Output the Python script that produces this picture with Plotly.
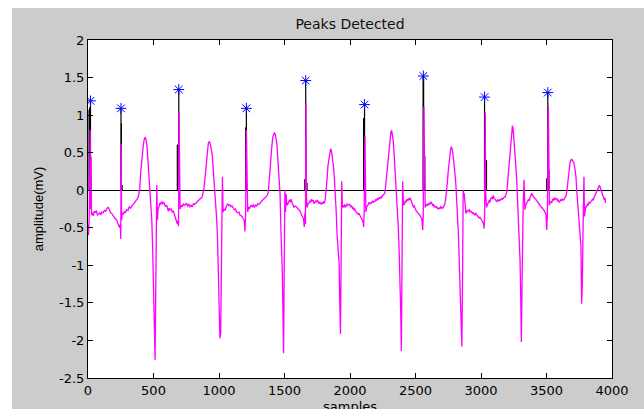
import plotly.graph_objects as go

# ---- data ----
sig_s = [0, 4, 10, 17, 20, 24, 27, 32, 40, 48, 55, 63, 72, 80, 90, 98, 106, 115, 125, 135, 145, 155, 163, 172, 182, 190, 200, 210, 220, 228, 236, 242, 247, 250, 253, 256, 262, 270, 278, 286, 295, 305, 315, 325, 335, 345, 355, 365, 375, 385, 395, 403, 412, 422, 431, 438, 445, 452, 461, 468, 474, 481, 487, 494, 500, 506, 512, 518, 525, 530, 535, 542, 548, 555, 562, 570, 578, 585, 592, 600, 608, 614, 620, 627, 635, 643, 652, 660, 668, 676, 682, 688, 691, 695, 699, 703,
         714, 720, 727, 735, 745, 752, 760, 770, 778, 787, 796, 805, 814, 822, 832, 840, 847, 856, 865, 872, 878, 885, 891, 898, 905, 911, 918, 925, 932, 940, 949, 955, 962, 968, 975, 981, 988, 994, 1000, 1007, 1013, 1020, 1026, 1031, 1038, 1045, 1052, 1060, 1068, 1076, 1083, 1092, 1100, 1109, 1118, 1126, 1134, 1143, 1152, 1160, 1168, 1176, 1185, 1192, 1198, 1203, 1209, 1213, 1219,
         1226, 1232, 1237, 1245, 1253, 1262, 1270, 1279, 1288, 1296, 1305, 1313, 1322, 1330, 1338, 1347, 1355, 1364, 1370, 1376, 1383, 1389, 1396, 1402, 1410, 1417, 1423, 1430, 1436, 1442, 1448, 1453, 1460, 1466, 1473, 1478, 1483, 1488, 1493, 1498, 1503, 1508, 1513, 1518, 1525, 1532, 1540, 1546, 1551, 1558, 1565, 1572, 1580, 1590, 1598, 1605, 1612, 1620, 1630, 1638, 1645, 1651, 1656, 1660, 1664, 1668, 1672,
         1680, 1687, 1693, 1700, 1705, 1712, 1718, 1724, 1730, 1738, 1745, 1750, 1756, 1763, 1770, 1776, 1781, 1788, 1795, 1800, 1806, 1812, 1819, 1825, 1832, 1840, 1846, 1852, 1858, 1863, 1869, 1875, 1882, 1888, 1895, 1901, 1909, 1917, 1922, 1927, 1932, 1937, 1942, 1947, 1954, 1960, 1966, 1972, 1979, 1985, 1991, 1998, 2005, 2012, 2018, 2023, 2030, 2036, 2043, 2049, 2055, 2062, 2068, 2074, 2081, 2088, 2094, 2100, 2104, 2108, 2114, 2118, 2121,
         2128, 2134, 2139, 2146, 2152, 2158, 2165, 2172, 2178, 2184, 2190, 2197, 2203, 2210, 2216, 2223, 2229, 2235, 2241, 2248, 2255, 2261, 2267, 2273, 2280, 2287, 2294, 2298, 2305, 2312, 2318, 2324, 2331, 2337, 2343, 2350, 2356, 2362, 2369, 2375, 2382, 2387, 2392, 2397, 2402, 2408, 2415, 2422, 2428, 2435, 2441, 2447, 2453, 2458, 2465, 2471, 2477, 2484, 2490, 2496, 2503, 2509, 2515, 2521, 2528, 2535, 2542, 2548, 2555, 2559, 2564, 2568, 2574,
         2580, 2586, 2592, 2597, 2604, 2610, 2617, 2623, 2630, 2636, 2642, 2648, 2655, 2661, 2668, 2674, 2680, 2687, 2693, 2699, 2705, 2711, 2718, 2724, 2730, 2737, 2743, 2749, 2755, 2761, 2767, 2773, 2780, 2786, 2793, 2800, 2808, 2815, 2821, 2828, 2834, 2840, 2846, 2854, 2859, 2864, 2868, 2872, 2878, 2885, 2891, 2897, 2903, 2910, 2916, 2922, 2928, 2935, 2941, 2948, 2954, 2960, 2968, 2974, 2979, 2986, 2992, 2999, 3005, 3012, 3018, 3024, 3028, 3032, 3036, 3042,
         3050, 3057, 3063, 3068, 3075, 3082, 3088, 3094, 3100, 3108, 3114, 3119, 3126, 3133, 3140, 3146, 3152, 3159, 3165, 3172, 3178, 3184, 3191, 3197, 3203, 3209, 3216, 3222, 3227, 3234, 3240, 3246, 3255, 3262, 3268, 3274, 3280, 3286, 3291, 3298, 3304, 3308, 3313, 3318, 3322, 3329, 3335, 3341, 3348, 3355, 3362, 3368, 3375, 3381, 3387, 3394, 3400, 3406, 3413, 3420, 3426, 3432, 3438, 3445, 3451, 3458, 3464, 3470, 3477, 3483, 3489, 3496, 3502, 3507, 3514, 3518, 3522, 3527,
         3534, 3540, 3546, 3552, 3558, 3565, 3571, 3578, 3584, 3590, 3597, 3603, 3610, 3616, 3622, 3629, 3635, 3641, 3648, 3654, 3659, 3666, 3674, 3680, 3686, 3692, 3698, 3704, 3710, 3717, 3725, 3731, 3738, 3744, 3750, 3757, 3763, 3768, 3773, 3780, 3786, 3790, 3794, 3800, 3806, 3813, 3819, 3825, 3832, 3838, 3845, 3851, 3857, 3864, 3870, 3876, 3883, 3889, 3895, 3902, 3908, 3914, 3920, 3926, 3933, 3941, 3946, 3951]

sig_v = [-0.45, -0.60, -0.30, 0.80, -0.25, 0.45, -0.33, -0.30, -0.34, -0.28, -0.30, -0.27, -0.33, -0.31, -0.30, -0.33, -0.29, -0.30, -0.27, -0.28, -0.24, -0.23, -0.26, -0.30, -0.31, -0.34, -0.36, -0.38, -0.40, -0.44, -0.47, -0.50, -0.45, -0.65, 0.62, -0.40, -0.30, -0.32, -0.28, -0.30, -0.26, -0.27, -0.22, -0.24, -0.21, -0.19, -0.17, -0.15, -0.12, -0.08, 0.02, 0.25, 0.45, 0.60, 0.69, 0.70, 0.66, 0.55, 0.31, 0.10, -0.04, -0.20, -0.40, -0.80, -1.42, -1.80, -2.26, -1.20, 0.07, -0.40, -0.25, -0.22, -0.17, -0.19, -0.15, -0.18, -0.16, -0.19, -0.22, -0.20, -0.25, -0.28, -0.24, -0.26, -0.25, -0.29, -0.28, -0.33, -0.36, -0.40, -0.45, -0.40, -0.48, 1.04, -0.10, -0.25,
         -0.20, -0.22, -0.18, -0.20, -0.19, -0.17, -0.21, -0.19, -0.22, -0.20, -0.22, -0.18, -0.19, -0.17, -0.15, -0.14, -0.13, -0.12, -0.10, -0.09, -0.05, 0.02, 0.12, 0.24, 0.40, 0.55, 0.62, 0.65, 0.63, 0.55, 0.46, 0.30, 0.15, 0.00, -0.16, -0.35, -0.60, -1.00, -1.38, -1.97, -1.90, -0.30, 0.18, -0.29, -0.25, -0.27, -0.22, -0.20, -0.18, -0.21, -0.19, -0.22, -0.21, -0.23, -0.26, -0.25, -0.29, -0.30, -0.29, -0.33, -0.34, -0.35, -0.38, -0.40, -0.55, -0.35, 0.80, -0.10, -0.29,
         -0.22, -0.25, -0.23, -0.20, -0.22, -0.19, -0.23, -0.20, -0.21, -0.18, -0.19, -0.17, -0.15, -0.14, -0.12, -0.11, -0.10, -0.08, -0.06, -0.03, 0.12, 0.30, 0.45, 0.56, 0.70, 0.76, 0.77, 0.74, 0.68, 0.62, 0.45, 0.30, 0.12, -0.05, -0.55, -0.80, -1.06, -1.60, -2.17, -1.00, 0.00, -0.29, -0.05, -0.20, -0.19, -0.15, -0.13, -0.16, -0.12, -0.17, -0.19, -0.23, -0.21, -0.22, -0.24, -0.25, -0.27, -0.28, -0.33, -0.35, -0.38, -0.49, -0.30, -0.45, 1.16, -0.10, -0.23,
         -0.18, -0.17, -0.14, -0.16, -0.12, -0.15, -0.13, -0.17, -0.17, -0.14, -0.16, -0.13, -0.15, -0.18, -0.16, -0.19, -0.19, -0.16, -0.18, -0.15, -0.17, -0.10, 0.00, 0.15, 0.33, 0.45, 0.52, 0.55, 0.53, 0.47, 0.40, 0.30, 0.12, -0.05, -0.30, -0.58, -0.80, -0.98, -1.50, -1.91, -1.00, 0.12, -0.23, -0.20, -0.23, -0.19, -0.22, -0.21, -0.18, -0.20, -0.19, -0.19, -0.22, -0.21, -0.24, -0.23, -0.26, -0.25, -0.28, -0.29, -0.30, -0.32, -0.31, -0.33, -0.35, -0.36, -0.38, -0.42, -0.49, -0.30, 0.73, -0.10, -0.29,
         -0.22, -0.19, -0.19, -0.16, -0.18, -0.17, -0.17, -0.14, -0.16, -0.15, -0.15, -0.12, -0.14, -0.11, -0.12, -0.10, -0.11, -0.09, -0.10, -0.07, -0.06, -0.05, -0.03, 0.08, 0.24, 0.40, 0.52, 0.59, 0.70, 0.77, 0.80, 0.74, 0.64, 0.48, 0.29, 0.15, 0.02, -0.20, -0.51, -0.80, -1.17, -1.60, -2.14, -1.10, 0.12, -0.19, -0.19, -0.14, -0.16, -0.12, -0.14, -0.11, -0.13, -0.10, -0.14, -0.17, -0.19, -0.22, -0.21, -0.25, -0.27, -0.28, -0.30, -0.31, -0.32, -0.34, -0.36, -0.38, -0.53, -0.35, 1.11, -0.05, -0.23,
         -0.19, -0.21, -0.18, -0.20, -0.17, -0.19, -0.16, -0.17, -0.20, -0.19, -0.22, -0.21, -0.23, -0.22, -0.24, -0.25, -0.23, -0.25, -0.22, -0.23, -0.24, -0.23, -0.21, -0.18, -0.12, -0.03, 0.10, 0.24, 0.38, 0.48, 0.53, 0.58, 0.55, 0.48, 0.39, 0.25, 0.08, -0.12, -0.36, -0.60, -0.94, -1.30, -1.69, -2.08, -1.20, 0.00, -0.05, -0.05, -0.20, -0.31, -0.27, -0.29, -0.27, -0.26, -0.29, -0.28, -0.29, -0.31, -0.30, -0.32, -0.33, -0.31, -0.33, -0.35, -0.35, -0.37, -0.36, -0.39, -0.40, -0.42, -0.44, -0.51, -0.30, 1.03, -0.05, -0.23,
         -0.18, -0.17, -0.13, -0.16, -0.11, -0.09, -0.12, -0.07, -0.11, -0.12, -0.14, -0.15, -0.13, -0.15, -0.12, -0.14, -0.12, -0.11, -0.12, -0.10, -0.09, -0.09, -0.06, -0.02, 0.10, 0.24, 0.40, 0.55, 0.69, 0.80, 0.86, 0.80, 0.62, 0.45, 0.27, 0.08, -0.14, -0.30, -0.49, -0.93, -1.50, -2.02, -1.30, -0.50, -0.20, 0.14, -0.26, -0.20, -0.18, -0.15, -0.12, -0.14, -0.10, -0.08, -0.04, -0.07, -0.09, -0.10, -0.11, -0.13, -0.14, -0.16, -0.17, -0.19, -0.20, -0.22, -0.23, -0.25, -0.26, -0.27, -0.29, -0.33, -0.53, -0.30, 1.12, -0.05, -0.20, -0.17,
         -0.15, -0.17, -0.12, -0.13, -0.10, -0.13, -0.11, -0.11, -0.14, -0.13, -0.16, -0.15, -0.12, -0.14, -0.12, -0.13, -0.11, -0.11, -0.08, -0.03, 0.05, 0.18, 0.31, 0.37, 0.40, 0.41, 0.40, 0.38, 0.36, 0.28, 0.18, 0.00, -0.17, -0.30, -0.44, -0.60, -0.75, -1.51, -1.30, -0.40, 0.18, -0.35, -0.30, -0.22, -0.22, -0.18, -0.20, -0.16, -0.17, -0.15, -0.14, -0.12, -0.13, -0.09, -0.07, -0.04, -0.02, 0.01, 0.04, 0.06, 0.05, 0.02, -0.02, -0.04, -0.09, -0.13, -0.10, -0.17]

# detection stems (sample, height)
stem_s = [8, 13, 19, 252, 255, 261, 682, 693, 1204, 1209, 1655, 1662, 1672, 2104, 2111, 2558, 2562, 2571, 3027, 3030, 3042, 3502, 3510, 3519]
stem_v = [1.07, 1.10, 1.19, 1.09, 0.89, 0.07, 0.61, 1.34, 0.84, 1.09, 0.15, 1.46, 0.10, 0.96, 1.14, 1.52, 1.50, 0.46, 1.24, 1.03, 0.40, 0.16, 1.30, 0.27]

# detected peaks (blue asterisks)
peak_s = [19, 252, 693, 1209, 1662, 2111, 2560, 3027, 3510]
peak_v = [1.19, 1.09, 1.34, 1.09, 1.46, 1.14, 1.52, 1.24, 1.30]

x_ticks = [0, 500, 1000, 1500, 2000, 2500, 3000, 3500, 4000]
x_tick_labels = ['0', '500', '1000', '1500', '2000', '2500', '3000', '3500', '4000']
y_ticks = [-2.5, -2, -1.5, -1, -0.5, 0, 0.5, 1, 1.5, 2]
y_tick_labels = ['-2.5', '-2', '-1.5', '-1', '-0.5', '0', '0.5', '1', '1.5', '2']

# ---- figure ----
fig = go.Figure()

stx, sty = [], []
for s, v in zip(stem_s, stem_v):
    stx += [s, s, None]
    sty += [0, v, None]
fig.add_trace(go.Scatter(x=stx, y=sty, mode='lines',
                         line=dict(color='black', width=1.2), hoverinfo='skip'))

fig.add_trace(go.Scatter(x=sig_s, y=sig_v, mode='lines',
                         line=dict(color='#ff00ff', width=1.3)))

fig.add_trace(go.Scatter(x=peak_s, y=peak_v, mode='markers',
                         marker=dict(symbol='asterisk-open', size=9, color='#0000ff',
                                     line=dict(color='#0000ff', width=1))))

tick_font = dict(family='DejaVu Sans', size=13, color='black')

fig.update_layout(
    width=644, height=409,
    margin=dict(l=88, r=32, t=40, b=31),
    paper_bgcolor='white', plot_bgcolor='white',
    showlegend=False,
    title=dict(text='Peaks Detected', x=0.5, xref='paper', xanchor='center',
               y=1 - 24 / 409, yref='container', yanchor='middle',
               font=dict(family='DejaVu Sans', size=14, color='#111111')),
    shapes=[
        dict(type='rect', xref='paper', yref='paper', x0=-0.145, x1=1.1, y0=-0.2, y1=1.0947,
             fillcolor='#cccccc', line_width=0, layer='below'),
        dict(type='rect', xref='paper', yref='paper', x0=0, x1=1, y0=0, y1=1,
             fillcolor='white', line_width=0, layer='below'),
    ],
    annotations=[
        dict(text='samples', xref='paper', yref='paper', x=0.5, y=-0.083,
             xanchor='center', yanchor='middle', showarrow=False,
             font=dict(family='DejaVu Sans', size=13, color='black')),
        dict(text='amplitude(mV)', xref='paper', yref='paper', x=-0.095, y=0.5,
             xanchor='center', yanchor='middle', textangle=-90, showarrow=False,
             font=dict(family='Liberation Sans', size=13, color='black')),
    ],
)

fig.update_xaxes(range=[0, 4000], tickvals=x_ticks, ticktext=x_tick_labels,
                 ticks='inside', ticklen=5, tickcolor='black', tickwidth=1,
                 showline=True, linecolor='black', linewidth=1, mirror='ticks',
                 showgrid=False, zeroline=False, tickfont=tick_font,
                 automargin=False)

fig.update_yaxes(range=[-2.5, 2], tickvals=y_ticks, ticktext=y_tick_labels,
                 ticks='inside', ticklen=5, tickcolor='black', tickwidth=1,
                 showline=True, linecolor='black', linewidth=1, mirror='ticks',
                 showgrid=False, zeroline=True, zerolinecolor='black', zerolinewidth=1,
                 tickfont=tick_font, automargin=False)

fig.write_html('out.html')
